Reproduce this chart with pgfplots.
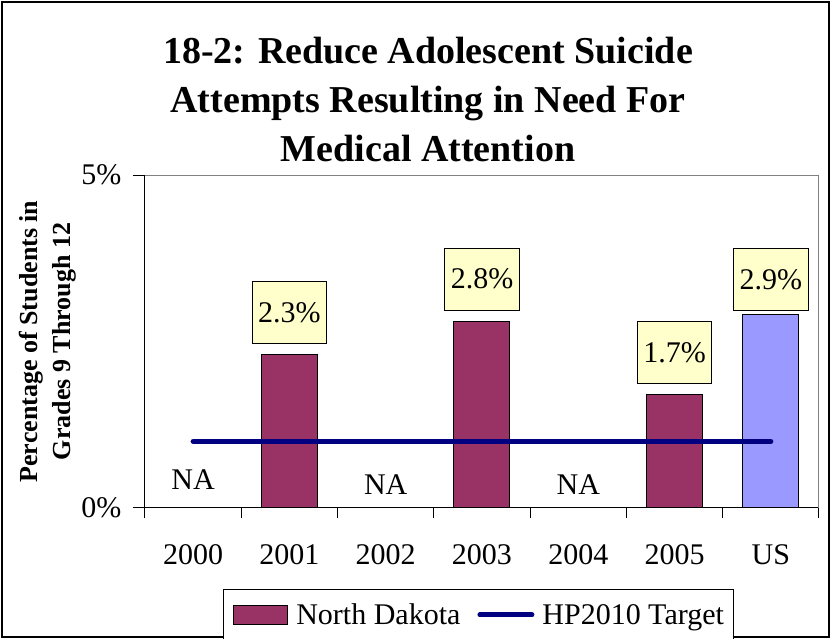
\documentclass[border=0pt]{standalone}
\usepackage{fontspec}
\setmainfont{Liberation Serif}
\usepackage{pgfplots}
\pgfplotsset{compat=1.18}
\definecolor{ndbar}{RGB}{153,51,102}
\definecolor{usbar}{RGB}{153,153,255}
\definecolor{target}{RGB}{0,0,128}
\definecolor{lblfill}{RGB}{255,255,204}
\newcommand{\fs}[1]{\fontsize{#1}{1.2\dimexpr #1pt\relax}\selectfont}

\begin{document}
\begin{tikzpicture}[x=1pt,y=1pt]
% page = 831 x 639, axis origin at pixel (145,508)
\useasboundingbox (-145,-131) rectangle (686,508);
\draw[line width=1.5pt] (-143,-129) rectangle (684,506);

% title
\begin{scope}[every node/.style={anchor=base, font=\bfseries\fs{38}}]
  \node at (283,444) {18-2: Reduce Adolescent Suicide};
  \node at (283,395) {Attempts Resulting in Need For};
  \node at (283,346) {Medical Attention};
\end{scope}

% y label
\node[rotate=90, align=center, font=\bfseries\fontsize{26}{33}\selectfont]
  at (-97,166.5) {Percentage of Students in\\Grades 9 Through 12};

\begin{axis}[
  at={(0,0)}, anchor=south west,
  scale only axis, width=674pt, height=333pt,
  xmin=-0.5, xmax=6.5, ymin=0, ymax=5,
  axis lines*=left,
  axis line style={-, line width=1pt},
  xtick={0,...,6},
  xticklabels={2000,2001,2002,2003,2004,2005,US},
  minor xtick={-0.5,0.5,...,6.5},
  major x tick style={draw=none},
  ytick={0,5}, yticklabels={0\%,5\%},
  major tick length=12pt, minor tick length=10pt,
  tick align=outside,
  tick style={black, line width=1pt},
  ticklabel style={font=\fs{30}},
  xticklabel style={yshift=-21pt},
  yticklabel style={xshift=-8pt},
  legend style={at={(0.495,-0.321)}, anchor=center, draw=black, line width=1pt,
    font=\fs{30}, legend columns=-1, inner xsep=10pt, inner ysep=12pt,
    nodes={inner xsep=0pt},
    /tikz/every odd column/.append style={column sep=8pt},
    /tikz/every even column/.append style={column sep=17pt}},
  clip=false,
]
\draw[gray, line width=1pt] (rel axis cs:0,1) -- (rel axis cs:1,1) -- (rel axis cs:1,0);

\addplot[ybar, bar width=56pt, fill=ndbar, draw=black, line width=1pt,
  legend image code/.code={\draw[fill=ndbar, draw=black, line width=1pt] (0pt,-9.5pt) rectangle (54pt,9.5pt);},
  point meta=explicit symbolic, nodes near coords,
  every node near coord/.style={anchor=south, yshift=11pt, fill=lblfill, draw=black,
    line width=0.8pt, font=\fs{30}, minimum height=62pt, inner xsep=6pt, inner ysep=0pt}]
  coordinates {(1,2.3) [2.3\%] (3,2.8) [2.8\%] (5,1.7) [1.7\%]};
\addlegendentry{North Dakota}

\addplot[ybar, bar width=56pt, fill=usbar, draw=black, line width=1pt, forget plot,
  point meta=explicit symbolic, nodes near coords,
  every node near coord/.style={anchor=south, yshift=4pt, fill=lblfill, draw=black,
    line width=0.8pt, font=\fs{30}, minimum height=62pt, inner xsep=6pt, inner ysep=0pt}]
  coordinates {(6,2.9) [2.9\%]};

\addplot[target, line width=5pt, line cap=round,
  legend image code/.code={\draw[target, line width=5pt, line cap=round] (2pt,0pt) -- (54pt,0pt);}]
  coordinates {(0,1) (6,1)};
\addlegendentry{HP2010 Target}

\node[font=\fs{30}] at (axis cs:0,0.42) {NA};
\node[font=\fs{30}] at (axis cs:2,0.35) {NA};
\node[font=\fs{30}] at (axis cs:4,0.35) {NA};
\end{axis}
\end{tikzpicture}
\end{document}
